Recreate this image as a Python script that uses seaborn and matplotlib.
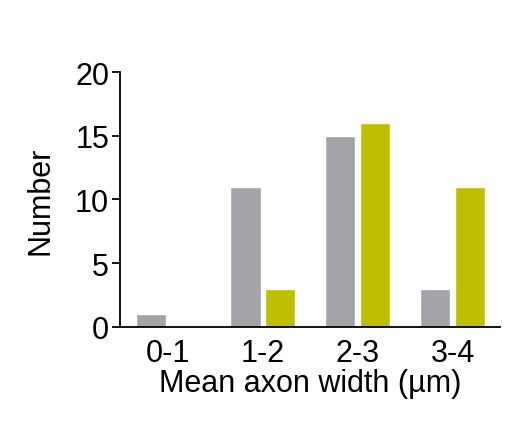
import matplotlib
matplotlib.use('Agg')
import matplotlib.pyplot as plt
import seaborn as sns
import pandas as pd

categories = ['0-1', '1-2', '2-3', '3-4']
group_a = [1, 11, 15, 3]
group_b = [0, 3, 16, 11]

df = pd.DataFrame({
    'bin': categories * 2,
    'count': group_a + group_b,
    'group': ['A'] * 4 + ['B'] * 4,
})

sns.set_style('ticks')
plt.rcParams['font.family'] = ['Liberation Sans', 'DejaVu Sans']
plt.rcParams['text.color'] = 'black'
plt.rcParams['axes.labelcolor'] = 'black'

fig = plt.figure(figsize=(5.05, 4.27), dpi=100)
ax = fig.add_axes([0.238, 0.232, 0.752, 0.597])
sns.barplot(data=df, x='bin', y='count', hue='group',
            palette=['#a3a3a8', '#bfbf00'], saturation=1, width=0.72, gap=0.12,
            legend=False, ax=ax)

ax.set_xlim(-0.5, 3.5)
ax.set_ylim(0, 20)
ax.set_yticks([0, 5, 10, 15, 20])
ax.tick_params(axis='y', labelsize=22, length=6, width=1.3, colors='black', pad=2)
ax.tick_params(axis='x', labelsize=22, length=0, pad=8, colors='black')
ax.set_xlabel('Mean axon width (µm)', fontsize=22, labelpad=0)
ax.set_ylabel('Number', fontsize=22, labelpad=14)
for s in ['top', 'right']:
    ax.spines[s].set_visible(False)
for s in ['left', 'bottom']:
    ax.spines[s].set_linewidth(1.3)
    ax.spines[s].set_color('black')

fig.savefig('out.png', dpi=100)
